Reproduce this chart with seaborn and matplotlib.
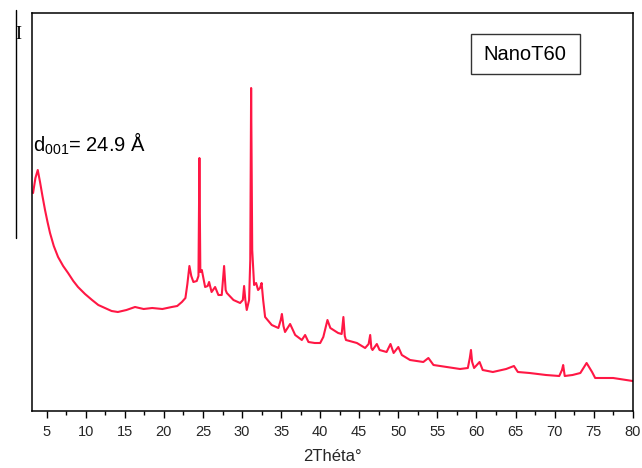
import matplotlib
matplotlib.use("Agg")
import matplotlib.pyplot as plt
from matplotlib.patches import Rectangle
from matplotlib.lines import Line2D
from matplotlib.ticker import MultipleLocator
import seaborn as sns
import pandas as pd

two_theta = [3.25, 3.55, 3.85, 4.0, 4.14, 4.45, 4.78, 5.1, 5.42, 5.9, 6.45, 7.1, 7.73, 8.4, 9.0,
             9.9, 10.8, 11.6, 12.46, 13.3, 14.1, 15.2, 16.3, 17.4, 18.5, 19.8, 21.0, 21.7, 22.3,
             22.75, 23.0, 23.26, 23.5, 23.77, 24.2, 24.42, 24.54, 24.66, 24.85, 25.27, 25.6, 25.78,
             26.1, 26.55, 26.97, 27.4, 27.7, 27.9, 28.05, 28.9, 29.75, 30.1, 30.26, 30.42, 30.6,
             30.9, 31.05, 31.16, 31.3, 31.54, 31.8, 32.05, 32.3, 32.5, 32.7, 32.95, 33.8, 34.65,
             34.95, 35.1, 35.3, 35.5, 36.15, 36.8, 37.65, 38.07, 38.5, 39.3, 40.0, 40.4, 40.93,
             41.3, 42.3, 42.75, 42.97, 43.15, 43.3, 44.7, 45.75, 46.2, 46.4, 46.55, 46.7, 47.25,
             47.6, 48.5, 49.0, 49.4, 50.0, 50.45, 51.5, 53.2, 53.85, 54.5, 56.2, 57.9, 58.9, 59.15,
             59.3, 59.45, 59.7, 60.4, 60.8, 62.1, 63.8, 64.8, 65.3, 66.8, 68.9, 70.6, 70.95, 71.1,
             71.3, 72.3, 73.3, 74.1, 74.8, 75.2, 77.5, 80.0]
intensity = [218, 233, 241, 235, 229, 215, 201, 189, 178, 165, 154, 145, 138, 130, 124,
             117, 111, 106, 103, 100, 99, 101, 104, 102, 103, 102, 104, 105, 109,
             113, 127, 145, 135, 129, 130, 135, 253, 139, 141, 124, 125, 129,
             119, 124, 116, 116, 145, 121, 118, 111, 108, 111, 125, 111, 101,
             111, 151, 323, 161, 126, 128, 121, 123, 128, 111, 94, 86, 83,
             91, 97, 85, 79, 87, 76, 71, 76, 69, 68, 68, 74, 91,
             83, 78, 77, 94, 75, 71, 68, 63, 67, 76, 63, 61, 67,
             61, 59, 67, 58, 64, 56, 51, 49, 53, 46, 44, 42, 43, 53,
             61, 49, 43, 49, 41, 39, 42, 45, 39, 38, 36, 35, 41, 46,
             35, 36, 38, 48, 39, 33, 33, 30]

xticks = [5, 10, 15, 20, 25, 30, 35, 40, 45, 50, 55, 60, 65, 70, 75, 80]
sample_label = "NanoT60"
d_label = r"d$_{\mathregular{001}}$= 24.9 Å"
x_label = "2Théta°"

sns.set_style("ticks")
plt.rcParams["font.family"] = ["Liberation Sans", "DejaVu Sans"]
plt.rcParams["mathtext.fontset"] = "custom"
plt.rcParams["mathtext.rm"] = "Liberation Sans"
plt.rcParams["mathtext.it"] = "Liberation Sans"

df = pd.DataFrame({"2theta": two_theta, "I": intensity})

fig = plt.figure(figsize=(6.42, 4.68), dpi=100)
ax = fig.add_axes([0.0503, 0.1218, 0.9352, 0.8504])
sns.lineplot(data=df, x="2theta", y="I", ax=ax, color="#ff1744", linewidth=1.5)

ax.set_xlim(3.15, 80)
ax.set_ylim(0, 398)
ax.set_xticks(xticks)
ax.xaxis.set_minor_locator(MultipleLocator(2.5))
ax.set_yticks([])
ax.set_ylabel("")
ax.set_xlabel(x_label, fontsize=12, labelpad=7)
ax.tick_params(axis="x", which="major", length=5, width=1, labelsize=10.5, pad=5, color="black")
ax.tick_params(axis="x", which="minor", length=3, width=1, color="black")
for s in ax.spines.values():
    s.set_visible(True)
    s.set_color("black")
    s.set_linewidth(1.1)

ax.add_patch(Rectangle((0.730, 0.847), 0.182, 0.100, transform=ax.transAxes,
                       fill=False, edgecolor="#333333", linewidth=1.0))
ax.text(0.8206, 0.897, sample_label, transform=ax.transAxes, ha="center", va="center",
        fontsize=14.5, color="black")

ax.text(3.25, 259, d_label, fontsize=14.5, ha="left", va="baseline", color="black")

fig.add_artist(Line2D([16 / 642, 16 / 642], [1 - 10 / 468, 1 - 238 / 468],
                      transform=fig.transFigure, color="black", linewidth=1.0))
fig.text(18.5 / 642, 1 - 34.5 / 468, "I", family=["Liberation Serif", "DejaVu Serif"],
         fontsize=13, ha="center", va="center", color="black")

fig.savefig("out.png", dpi=100)
